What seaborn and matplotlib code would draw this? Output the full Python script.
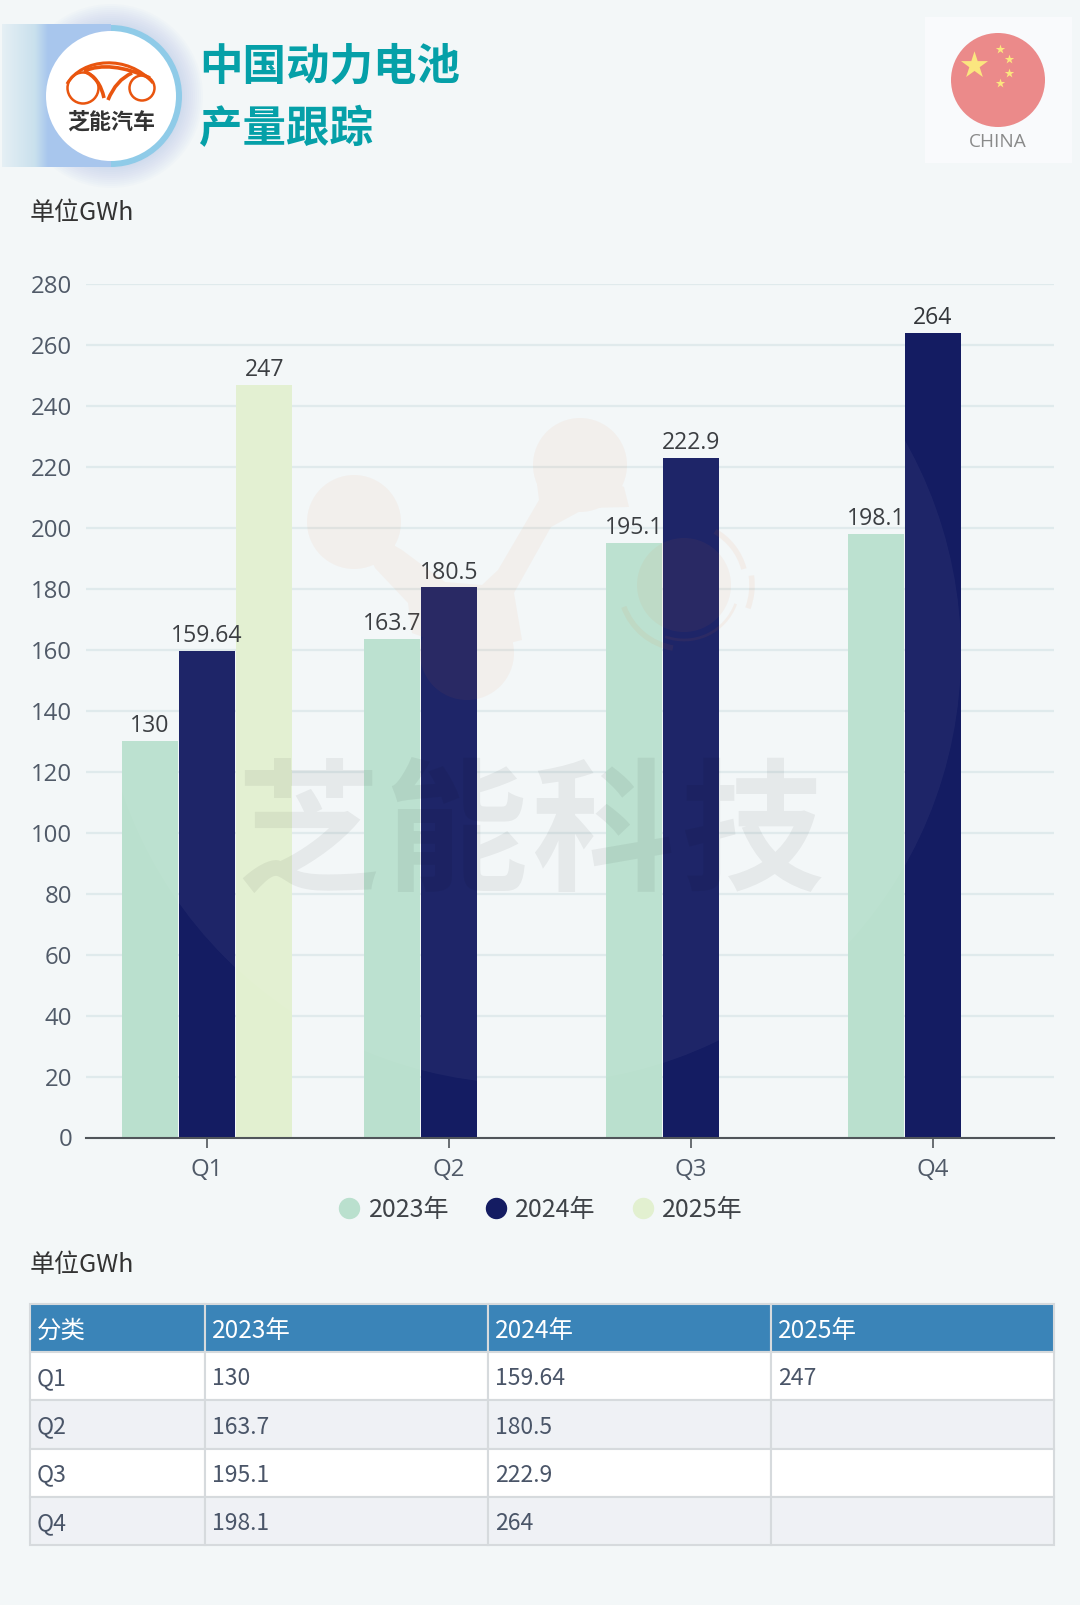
import numpy as np
import pandas as pd
import matplotlib
matplotlib.use('Agg')
import matplotlib.pyplot as plt
import seaborn as sns
from matplotlib.lines import Line2D
from matplotlib.patches import Circle, Rectangle, Arc, Wedge, PathPatch
from matplotlib.path import Path

quarters = ['Q1', 'Q2', 'Q3', 'Q4']
years = ['2023年', '2024年', '2025年']
values_2023 = [130, 163.7, 195.1, 198.1]
values_2024 = [159.64, 180.5, 222.9, 264]
values_2025 = [247, np.nan, np.nan, np.nan]
yticks = list(range(0, 281, 20))
table_header = ['分类', '2023年', '2024年', '2025年']
table_rows = [
    ['Q1', '130', '159.64', '247'],
    ['Q2', '163.7', '180.5', ''],
    ['Q3', '195.1', '222.9', ''],
    ['Q4', '198.1', '264', ''],
]

BG = '#F3F7F8'
palette = ['#BAE0CE', '#141C62', '#E2F0D0']
W, H = 1080, 1605

sns.set_theme(style='white')
plt.rcParams['font.family'] = ['Noto Sans CJK SC', 'DejaVu Sans']
PX = 72 / 100  # px to pt at dpi 100
LATIN = ['Open Sans', 'Noto Sans CJK SC']

df = pd.DataFrame({
    'quarter': quarters * 3,
    'year': [y for y in years for _ in quarters],
    'value': values_2023 + values_2024 + values_2025,
})

fig = plt.figure(figsize=(W / 100, H / 100), dpi=100, facecolor=BG)


def px_axes(x0, y0, x1, y1):
    return fig.add_axes([x0 / W, 1 - y1 / H, (x1 - x0) / W, (y1 - y0) / H])


# --- chart ---
ax = px_axes(86, 284, 1054, 1137.5)
ax.patch.set_alpha(0)
sns.barplot(data=df, x='quarter', y='value', hue='year', order=quarters, hue_order=years,
            palette=palette, width=0.71, gap=0.018, saturation=1, legend=False, linewidth=0, ax=ax)
ax.set_xlim(-0.5, 3.5)
ax.set_ylim(0, 280)
ax.set_yticks(yticks)
ax.set_xlabel('')
ax.set_ylabel('')
ax.grid(axis='y', color='#DFEAEC', linewidth=1.6, zorder=0)
ax.set_axisbelow(True)
sns.despine(ax=ax, left=True)
ax.spines['bottom'].set_color('#50555A')
ax.spines['bottom'].set_linewidth(1.5)
ax.tick_params(axis='y', length=0, labelsize=24 * PX, labelcolor='#505A68', pad=10)
ax.tick_params(axis='x', length=7, width=1.2, color='#50555A', labelsize=24 * PX, labelcolor='#505A68', pad=8, bottom=True)
for lab in ax.get_xticklabels() + ax.get_yticklabels():
    lab.set_family(LATIN)
for container in ax.containers:
    ax.bar_label(container, fmt='%g', fontsize=23 * PX, color='#33363A', padding=2, family=LATIN)

handles = [Line2D([], [], linestyle='', marker='o', markersize=20 * PX, color=c) for c in palette]
leg = fig.legend(handles, years, loc='center', bbox_to_anchor=(541 / W, 1 - 1210 / H), ncol=3, frameon=False,
                 fontsize=25 * PX, labelcolor='#3F4348', handlelength=0.8, handletextpad=0.38, columnspacing=1.47)

# --- overlay in pixel coordinates: header, logos, watermark ---
ov = px_axes(0, 0, W, H)
ov.axis('off')
ov.patch.set_alpha(0)

# logo band and glow
for r in range(92, 70, -2):
    ov.add_patch(Circle((111, 96), r, color='#8FA8EA', alpha=0.03, lw=0))
xs = np.linspace(0, 1, 200)
band = np.zeros((1, 200, 4))
stops = [0, 0.3, 0.42]
for i, vals in enumerate([[0.90, 0.79, 0.66], [0.94, 0.88, 0.78], [0.96, 0.93, 0.93]]):
    band[0, :, i] = np.interp(xs, stops, vals)
band[..., 3] = 1
ov.imshow(band, extent=(2, 111, 167, 24), aspect='auto', zorder=1)
ov.set_xlim(0, W)
ov.set_ylim(H, 0)
ov.add_patch(Wedge((111, 96), 71, -90, 90, color='#8FCBE8', lw=0, zorder=2))
ov.add_patch(Circle((111, 96), 65, color='white', lw=0, zorder=3))
orange = '#E9550F'
ov.add_patch(Circle((83, 88), 15.5, fill=False, ec=orange, lw=1.8, zorder=4))
ov.add_patch(Circle((142, 88), 12.5, fill=False, ec=orange, lw=1.8, zorder=4))
roof = Path([(67, 84), (82, 58), (128, 54), (153, 83)], [Path.MOVETO, Path.CURVE4, Path.CURVE4, Path.CURVE4])
ov.add_patch(PathPatch(roof, fill=False, ec=orange, lw=2.2, zorder=4))
for a, b, c in [((84, 71), (100, 78), (104, 98)), ((132, 73), (116, 80), (108, 100)), ((84, 71), (110, 60), (150, 78))]:
    ov.add_patch(PathPatch(Path([a, b, c], [Path.MOVETO, Path.CURVE3, Path.CURVE3]), fill=False, ec=orange, lw=2.6, zorder=4))
ov.text(111, 122, '芝能汽车', ha='center', va='center', fontsize=22 * PX, fontweight='bold', color='#333333', zorder=4)

# title
ov.text(199, 66, '中国动力电池', ha='left', va='center', fontsize=43.5 * PX, fontweight='bold', color='#05A0A8')
ov.text(199, 129, '产量跟踪', ha='left', va='center', fontsize=43.5 * PX, fontweight='bold', color='#05A0A8')

# flag
ov.add_patch(Rectangle((925, 17), 147, 146, color='#F9FAFC', lw=0))
ov.add_patch(Circle((998, 80), 47, color='#EB8A8A', lw=0))
ov.scatter([974], [65], marker='*', s=420, color='#FBE67F', lw=0, zorder=3)
ov.scatter([1000, 1009, 1009, 1000], [49, 59, 73, 83], marker='*', s=50, color='#FBE67F', lw=0, zorder=3)
ov.text(998, 142, 'CHINA', ha='center', va='center', fontsize=19 * PX, color='#8A8A8A', family='Open Sans')

# units
ov.text(30, 213, '单位GWh', ha='left', va='center', fontsize=25 * PX, color='#333333')
ov.text(30, 1265, '单位GWh', ha='left', va='center', fontsize=25 * PX, color='#333333')

# watermark
wm = '#E87030'
ov.add_patch(Circle((530, 653), 431, color='white', alpha=0.045, lw=0, zorder=5))
link = Path([(354, 522), (402, 550), (445, 582), (482, 585), (498, 570), (539, 500), (535, 467), (580, 465),
             (624, 487), (629, 507), (586, 508), (551, 527), (514, 593), (522, 640), (467, 653),
             (412, 633), (408, 603), (375, 568), (354, 522)])
blob = Path.make_compound_path(Path.circle((354, 522), 47), Path.circle((580, 465), 47),
                               Path.circle((467, 653), 47), link)
ov.add_patch(PathPatch(blob, fc=wm, ec='none', alpha=0.06, zorder=5))
ov.add_patch(Circle((684, 585), 47, color=wm, alpha=0.06, lw=0, zorder=5))
for r, t1, t2, lw in [(62, 300, 345, 4), (68, 352, 380, 4), (64, 100, 160, 4), (55, 20, 110, 2)]:
    ov.add_patch(Arc((684, 585), 2 * r, 2 * r, theta1=t1, theta2=t2, ec=wm, alpha=0.07, lw=lw, zorder=5))
for ch, cx in zip('芝能科技', [308, 456, 603, 752]):
    ov.text(cx, 838, ch, ha='center', va='center', fontsize=143 * PX, fontweight='bold', color='black', alpha=0.055, zorder=6)

# --- table ---
tab_ax = px_axes(30, 1304, 1054, 1545)
tab_ax.axis('off')
col_widths = np.array([175, 283, 283, 283]) / 1024
tbl = tab_ax.table(cellText=[table_header] + table_rows, colWidths=col_widths, cellLoc='left', bbox=[0, 0, 1, 1])
tbl.auto_set_font_size(False)
for (r, c), cell in tbl.get_celld().items():
    cell.set_edgecolor('#D6DADD')
    cell.set_linewidth(1.5)
    cell.PAD = 0.04 if c == 0 else 0.025
    cell.get_text().set_verticalalignment('center_baseline')
    if r == 0:
        cell.set_facecolor('#3A84B8')
        cell.set_text_props(color='white', fontsize=24.5 * PX)
    else:
        cell.set_facecolor('white' if r % 2 == 1 else '#EFF1F5')
        cell.set_text_props(color='#4A5568', fontsize=23 * PX)

fig.savefig('out.png', dpi=100, facecolor=BG)
